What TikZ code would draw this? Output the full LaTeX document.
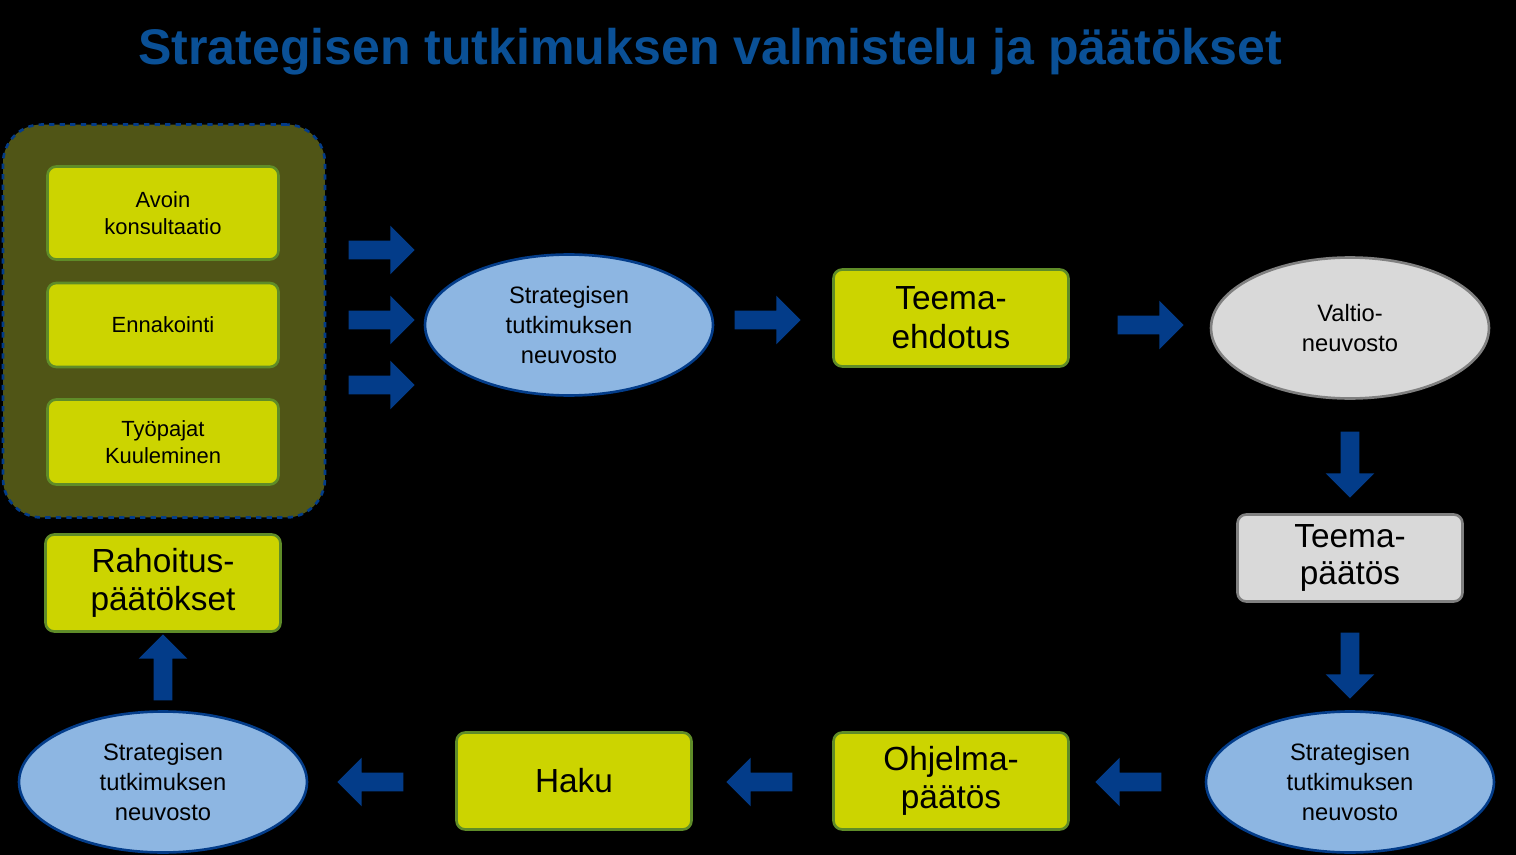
\documentclass[tikz,border=0pt]{standalone}
\usepackage{fontspec}
\setmainfont{Liberation Sans}
\usetikzlibrary{shapes.geometric,shapes.arrows,positioning}
\definecolor{titleblue}{RGB}{10,80,150}
\definecolor{arrowblue}{RGB}{3,60,137}
\definecolor{lime}{RGB}{204,212,0}
\definecolor{limeline}{RGB}{95,140,40}
\definecolor{olive}{RGB}{80,85,22}
\definecolor{skyblue}{RGB}{141,182,226}
\definecolor{lightgray}{RGB}{217,217,217}
\definecolor{midgray}{RGB}{128,128,128}
\tikzset{
  smallbox/.style={rectangle, rounded corners=5pt, draw=limeline, line width=1.5pt, fill=lime,
    minimum width=4.62cm, align=center, font=\fontsize{12.5}{15}\selectfont},
  bigbox/.style={rectangle, rounded corners=5pt, draw=limeline, line width=1.5pt, fill=lime,
    minimum width=4.7cm, minimum height=1.94cm, align=center, font=\fontsize{19}{22}\selectfont},
  council/.style={ellipse, draw=arrowblue, line width=1.5pt, fill=skyblue,
    minimum width=5.76cm, minimum height=2.82cm, align=center, font=\fontsize{13.5}{17}\selectfont},
  blockarrow/.style={single arrow, fill=arrowblue, draw=none, inner sep=0.18cm,
    minimum height=1.32cm, single arrow head extend=0.3cm, font=\tiny},
}
\begin{document}
\begin{tikzpicture}[x=0.02cm,y=-0.02cm]
\fill[black] (0,0) rectangle (1516,855);
\node[font=\bfseries\fontsize{28.5}{32}\selectfont, text=titleblue] (title) at (710,52) {Strategisen tutkimuksen valmistelu ja päätökset};

% group of inputs
\node[rectangle, rounded corners=22pt, draw=arrowblue, dashed, line width=1.5pt, fill=olive,
  minimum width=6.44cm, minimum height=7.86cm] (group) at (164,321) {};
\node[smallbox, minimum height=1.86cm] (avoin) at (163,213) {Avoin\\konsultaatio};
\node[smallbox, minimum height=1.68cm] (ennakointi) at (163,325) {Ennakointi};
\node[smallbox, minimum height=1.7cm] (tyopajat) at (163,442) {Työpajat\\Kuuleminen};
\node[bigbox] (rahoitus) at (163,583) {Rahoitus-\\päätökset};

% top row
\node[blockarrow] (a1) at (377,250) {};
\node[blockarrow] (a2) at (377,320) {};
\node[blockarrow] (a3) at (377,385) {};
\node[council] (stn1) at (569,325) {Strategisen\\tutkimuksen\\neuvosto};
\node[blockarrow] (a4) at (763,320) {};
\node[bigbox] (ehdotus) at (951,318) {Teema-\\ehdotus};
\node[blockarrow] (a5) at (1146,325) {};
\node[ellipse, draw=midgray, line width=1.5pt, fill=lightgray, minimum width=5.56cm, minimum height=2.82cm,
  align=center, font=\fontsize{13.5}{17}\selectfont] (valtio) at (1350,328) {Valtio-\\neuvosto};

% right column
\node[blockarrow, shape border rotate=270] (a6) at (1350,460) {};
\node[rectangle, rounded corners=5pt, draw=midgray, line width=1.5pt, fill=lightgray, minimum width=4.5cm,
  minimum height=1.74cm, align=center, font=\fontsize{19}{21}\selectfont] (paatos) at (1350,558) {Teema-\\päätös};
\node[blockarrow, shape border rotate=270] (a7) at (1350,661) {};

% bottom row
\node[council] (stn2) at (1350,782) {Strategisen\\tutkimuksen\\neuvosto};
\node[blockarrow, shape border rotate=180] (a8) at (1133,782) {};
\node[bigbox] (ohjelma) at (951,781) {Ohjelma-\\päätös};
\node[blockarrow, shape border rotate=180] (a9) at (764,782) {};
\node[bigbox] (haku) at (574,781) {Haku};
\node[blockarrow, shape border rotate=180] (a10) at (375,782) {};
\node[council] (stn3) at (163,782) {Strategisen\\tutkimuksen\\neuvosto};
\node[blockarrow, shape border rotate=90] (a11) at (163,672) {};
\end{tikzpicture}
\end{document}
